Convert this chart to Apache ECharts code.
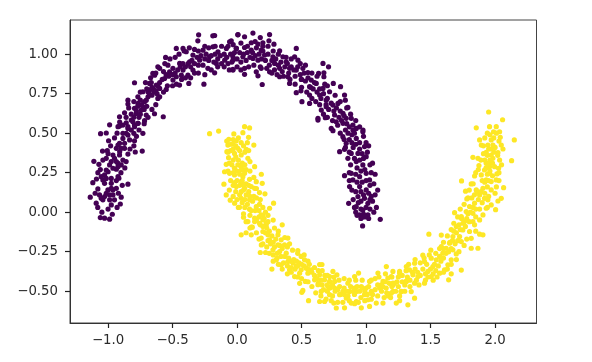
<!DOCTYPE html>
<html><head><meta charset="utf-8">
<style>html,body{margin:0;padding:0;background:#fff}#c{width:592px;height:362px}</style>
<script src="https://cdn.jsdelivr.net/npm/echarts@6/dist/echarts.min.js"></script></head>
<body><div id="c"></div>
<script>
const xTicks=[-1,-0.5,0,0.5,1,1.5,2];
const yTicks=[-0.5,-0.25,0,0.25,0.5,0.75,1];
const purple=[
[-1.048,0],[-1.06,-0.034],[-1.027,-0.038],[-0.988,-0.044],[-0.967,-0.013],[-1.138,0.095],[-1.092,0.057],[-0.905,0.052],[-0.898,0.095],[-0.975,0.046],[-0.846,0.177],[-1.118,0.187],[-1.079,0.147],[-1.066,0.109],[-1.027,0.099],[-0.988,0.109],[-0.963,0.141],[-0.95,0.078],[-1.04,0.078],[-0.975,0.183],[-0.916,0.215],[-0.936,0.2],[-1.04,0.204],[-1.027,0.236],[-1.079,0.25],[-1,0.256],[-1.11,0.322],[-1.071,0.303],[-0.975,0.32],[-0.95,0.341],[-0.911,0.362],[-0.924,0.31],[-0.898,0.299],[-0.936,0.272],[-1.014,0.341],[-1.043,0.387],[-1.006,0.389],[-0.846,0.368],[-0.789,0.381],[-0.735,0.387],[-0.996,0.452],[-1.058,0.497],[-1.014,0.501],[-0.936,0.404],[-0.911,0.436],[-0.872,0.404],[-0.885,0.467],[-0.846,0.488],[-0.795,0.452],[-0.8,0.499],[-0.73,0.499],[-0.988,0.553],[-0.911,0.545],[-0.859,0.566],[-0.795,0.551],[-0.717,0.579],
[-0.298,1.122],[-0.304,1.084],[-0.188,1.116],[-0.174,1.118],[0.006,1.122],[-0.795,0.819],[-0.257,0.81],[-0.64,0.623],[-0.572,0.604],[-0.554,0.979],[-0.614,0.92],[-0.471,1.036],[-0.446,0.804],[-0.374,0.815],[-0.911,0.604],[-0.872,0.629],[-0.846,0.709],[-0.846,0.684],[-0.769,0.73],[-0.795,0.657],[-0.743,0.646],[-0.76,0.6],[-0.704,0.615],[-0.717,0.699],[-0.678,0.772],[-0.64,0.76],[-0.614,0.72],[-0.549,0.777],[-0.653,0.878],[-0.665,0.82],[-0.614,0.8],
[-0.419,1.036],[-0.394,1.015],[-0.342,0.994],[-0.264,1.025],[-0.187,1.046],[-0.148,1.015],[-0.058,1.078],[-0.083,1.036],[-0.006,1.036],[-0.032,0.983],[-0.213,0.983],[-0.29,0.962],[-0.368,0.952],[-0.445,0.941],[-0.536,0.93],[-0.497,0.91],[-0.419,0.899],[-0.342,0.899],[-0.264,0.93],[-0.161,0.941],[-0.096,0.962],[-0.032,0.903],[-0.174,0.882],[-0.226,0.91],[-0.471,0.857],[-0.432,0.867],[-0.562,0.846],[-0.381,0.867],[-0.523,0.888],[-0.497,0.836],[-0.639,0.867],[-0.678,0.815],[-0.691,0.762],[-0.626,0.804],[-0.73,0.762],[-0.6,0.783],[-0.768,0.688],[-0.704,0.709],[-0.781,0.625],[-0.73,0.667],[-0.82,0.583],[-0.885,0.551],[-0.768,0.562],[-0.923,0.541],[-0.846,0.53],
[0.007,1.124],[0.058,1.11],[0.123,1.133],[0.18,1.105],[0.252,1.124],[0.247,1.084],[0.286,1.063],[0.459,1.036],[0.11,1.072],[0.162,1.063],[0.2,1.072],[-0.045,1.084],[-0.006,1.036],[0.058,1.042],[0.11,1.025],[0.187,1.025],[0.33,1.021],[0.213,0.994],[0.045,0.983],[0.123,0.973],[0.278,0.983],[0.355,0.983],[0.446,0.983],[-0.032,0.962],[0.162,0.962],[0.291,0.941],[0.381,0.952],[0.472,0.962],[-0.032,0.899],[0.058,0.91],[0.187,0.91],[0.058,0.872],[0.149,0.888],[0.252,0.888],[0.33,0.91],[0.407,0.91],[0.459,0.899],[0.51,0.91],[0.549,0.884],[0.666,0.941],[0.709,0.92],[0.632,0.878],[0.673,0.882],[0.673,0.857],[0.162,0.863],[0.195,0.808],[0.33,0.857],[0.394,0.857],[0.407,0.815],[0.498,0.84],[0.575,0.836],[0.614,0.815],[0.746,0.815],[0.802,0.794],[0.562,0.794],[0.666,0.783],[0.717,0.762],[0.459,0.756],[0.495,0.768],[0.503,0.699],[0.562,0.741],[0.562,0.688],[0.64,0.741],[0.691,0.709],[0.743,0.678],[0.833,0.741],[0.839,0.709],[0.782,0.688],[0.859,0.663],[0.653,0.646],[0.627,0.594],[0.684,0.598],[0.691,0.667],[0.756,0.615],[0.821,0.625],[0.846,0.594],[0.769,0.572],[0.885,0.594],[0.898,0.551],[0.821,0.562],[0.73,0.53],[0.924,0.53],[0.976,0.52],
[0.627,0.583],[0.743,0.516],[0.82,0.478],[0.795,0.383],[0.833,0.398],[0.975,0.509],[0.898,0.52],[0.846,0.436],[0.924,0.467],[0.988,0.415],[0.885,0.372],[0.937,0.372],[1.001,0.351],[0.859,0.341],[0.924,0.32],[0.975,0.299],[0.833,0.231],[0.885,0.246],[0.872,0.162],[0.898,0.204],[0.95,0.225],[1.001,0.246],[1.027,0.204],[0.95,0.162],[1.001,0.141],[0.937,0.099],[0.988,0.088],[0.865,0.056],[0.924,0.035],[0.975,0.014],[1.014,0.056],[0.95,-0.017],[1.014,-0.017],[0.973,-0.087],[1.11,-0.045],[1.08,0.03],[1.09,0.14],[1.07,0.24],[1.05,0.31],[1.02,0.42],[1.04,0.1],[1.06,0],[0.97,-0.03],[1.02,-0.04],[0.98,-0.012],
[-1.053,0.088],[-1.014,0.12],[-0.988,0.078],[-0.962,0.109],[-1.001,0.141],[-0.936,0.151],[-0.975,0.151],[-1.027,0.183],[-1.053,0.225],[-1.014,0.214],[-0.975,0.214],[-0.923,0.225],[-1.014,0.267],[-0.988,0.299],[-0.962,0.278],[-0.923,0.288],[-0.885,0.33],[-0.936,0.32],[-0.962,0.362],[-0.91,0.383],[-0.923,0.425],[-0.872,0.436],[-0.897,0.404],[-0.833,0.457],[-0.859,0.499],[-0.82,0.52],[-0.885,0.499],[-0.846,0.541],[-0.794,0.541],[-0.768,0.562],[-0.807,0.572],
[-0.78,0.64],[-0.75,0.62],[-0.77,0.67],[-0.74,0.68],[-0.75,0.71],[-0.72,0.65],[-0.7,0.67],[-0.8,0.6],[-0.82,0.62],[-0.69,0.73],[-0.66,0.74],[-0.68,0.75],[-0.65,0.78],[-0.63,0.77],[-0.66,0.79],[-0.7,0.78],[-0.62,0.75],[-0.6,0.82],[-0.58,0.84],[-0.55,0.87],[-0.57,0.89],[-0.53,0.86],[-0.5,0.87],[-0.48,0.88],[-0.46,0.9],[-0.44,0.92],[-0.42,0.94],[-0.4,0.92],[-0.38,0.94],[-0.36,0.92],[-0.35,0.96],[-0.33,0.94],[-0.31,0.98],[-0.3,0.93],[-0.28,0.99],[-0.25,0.97],[-0.24,1],[-0.22,0.96],[-0.2,0.99],[-0.18,0.95],[-0.17,1],[-0.15,0.97],[-0.13,0.99],[-0.12,0.94],[-0.1,1],[-0.08,0.98],[-0.07,0.94],[-0.05,1],[-0.04,0.95],[-0.02,1.01],[0,0.97],[0.02,1.01],[0.03,0.95],[0.05,1],[0.07,0.96],[0.08,1.01],[0.1,0.98],[0.12,1.01],[0.14,0.99],[0.15,1.04],[0.17,1],[0.19,0.97],[0.2,1.02],[0.22,0.96],[0.24,1],[0.25,0.93],[0.27,0.96],[0.29,0.9],[0.3,0.97],[0.32,0.93],[0.34,0.95],[0.35,0.89],[0.37,0.92],[0.39,0.94],[0.4,0.88],[0.42,0.92],[0.44,0.9],[0.45,0.86],[0.47,0.92],[0.49,0.87],[0.5,0.84],[0.52,0.88],[0.53,0.83],[0.55,0.85],[0.57,0.79],[0.59,0.78],[0.6,0.82],[0.62,0.76],[0.64,0.78],[0.65,0.72],[0.67,0.75],[0.69,0.68],[0.7,0.72],[0.71,0.65],[0.73,0.69],[0.75,0.64],[0.77,0.66],[0.79,0.6],[0.8,0.64],[0.81,0.58],[0.83,0.61],[0.85,0.56],[0.87,0.54],[0.84,0.52],[0.86,0.5],[0.89,0.49],[0.91,0.5],[0.87,0.46],[0.89,0.44],[0.92,0.43],[0.95,0.44],[0.9,0.41],[0.95,0.4],[0.97,0.37],[0.91,0.34],[0.95,0.33],[0.98,0.34],[0.93,0.28],[0.96,0.26],[0.99,0.27],[0.92,0.24],[1,0.2],[0.97,0.19],[0.93,0.19],[1.03,0.17],[0.96,0.13],[1.02,0.12],[0.92,0.13],[0.98,0.11],[1.05,0.07],[0.96,0.07],[0.94,0.06],[1,0.03],[0.96,0.02],[1.03,0.02],[0.92,0],[0.99,-0.03],
[-1.08,0.03],[-1,0.02],[-0.93,0.03],[-1.1,0.12],[-0.92,0.12],[-1.09,0.21],[-0.89,0.17],[-1.06,0.27],[-0.9,0.25],[-1.04,0.33],[-0.87,0.28],[-1,0.37],[-0.86,0.32],[-0.98,0.42],[-0.83,0.4],[-0.95,0.47],[-0.8,0.42],[-0.93,0.5],[-0.78,0.48],[-0.91,0.57],[-0.76,0.52],[-0.86,0.6],[-0.72,0.56],[-0.84,0.66],[-0.69,0.6],[-0.8,0.7],[-0.66,0.65],[-0.75,0.76],[-0.63,0.68],[-0.71,0.82],[-0.6,0.73],[-0.67,0.85],[-0.57,0.76],[-0.63,0.88],[-0.54,0.8],[-0.6,0.91],[-0.5,0.8],[-0.56,0.94],[-0.47,0.81],[-0.52,0.97],[-0.43,0.84],[-0.48,0.98],[-0.4,0.85],[-0.45,1],[-0.36,0.85],[-0.41,1.02],[-0.33,0.88],[-0.37,1.04],[-0.3,0.88],[-0.33,1.03],[-0.25,0.87],[-0.3,1.02],[-0.2,0.9],[-0.25,1.05],[-0.15,0.92],[-0.22,1.04],[-0.1,0.92],[-0.17,1.05],[-0.06,0.9],[-0.12,1.05],[0,0.92],[-0.07,1.05],[0.03,0.9],[-0.03,1.06],[0.09,0.92],[0.03,1.07],[0.13,0.93],[0.08,1.05],[0.18,0.92],[0.14,1.08],[0.23,0.91],[0.2,1.05],[0.27,0.88],[0.24,1.05],[0.31,0.87],[0.28,1.02],[0.36,0.86],[0.32,1],[0.41,0.84],[0.38,0.98],[0.45,0.81],[0.42,0.97],[0.5,0.79],[0.49,0.94],[0.54,0.76],[0.53,0.93],[0.58,0.72],[0.58,0.88],[0.61,0.7],[0.62,0.86],[0.64,0.68],[0.68,0.81],[0.67,0.62],[0.7,0.8],[0.7,0.6],[0.76,0.74],[0.74,0.58],[0.8,0.7],[0.78,0.55],[0.85,0.66],[0.8,0.5],[0.88,0.62],[0.83,0.46],[0.92,0.58],[0.84,0.41],[0.95,0.54],[0.87,0.38],[0.98,0.48],[0.88,0.3],[1,0.44],[0.87,0.25],[1.01,0.38],[0.87,0.2],[1.03,0.3],[0.89,0.14],[1.04,0.25],[0.9,0.08],[1.06,0.18],[0.91,0.03],[1.07,0.11],[0.93,-0.02],[1.03,0.08],[0.96,-0.04]
];
const yellow=[
[-0.213,0.497],[-0.143,0.513],[0.058,0.541],[0.097,0.533],[0.045,0.503],[-0.025,0.495],[0.089,0.474],[-0.064,0.461],[-0.006,0.452],[0.032,0.44],[-0.032,0.431],[-0.071,0.425],[0.13,0.425],[-0.079,0.383],[0.071,0.398],[0.006,0.404],[-0.02,0.372],[0.032,0.362],[-0.066,0.345],[0.084,0.341],[-0.084,0.303],[0.006,0.299],[0.136,0.288],[-0.097,0.256],[-0.058,0.246],[-0.02,0.278],[0.032,0.267],[0.058,0.246],[0.188,0.24],[-0.02,0.236],[0.045,0.225],[-0.102,0.177],[-0.02,0.187],[0.032,0.193],[0.097,0.208],[0.149,0.193],[0.195,0.183],[-0.006,0.162],[0.058,0.151],[0.11,0.162],[0.136,0.151],[-0.084,0.109],[0.032,0.13],[0.071,0.109],[0.174,0.124],[0.216,0.116],[-0.053,0.076],[-0.019,0.057],[0.032,0.088],[0.097,0.078],[0.174,0.05],[0.283,0.057],[0.019,0.031],[0.097,0.019],[0.149,0.035],[0.252,0.025],[0.05,-0.032],[0.084,-0.059],[0.136,-0.038],[0.187,-0.017],[0.2,-0.049],[0.226,-0.07],[0.118,-0.095],[0.35,-0.08],
[0.032,-0.143],[0.07,-0.13],[0.11,-0.143],[0.11,-0.095],[0.174,-0.07],[0.226,-0.08],[0.136,-0.059],[0.2,-0.122],[0.239,-0.143],[0.252,-0.175],[0.187,-0.164],[0.188,-0.207],[0.18,-0.255],[0.221,-0.255],[0.27,-0.36],[0.471,-0.243],[0.64,-0.331],[0.658,-0.331],[0.51,-0.495],[0.502,-0.507],[0.554,-0.56],[0.529,-0.438],[0.485,-0.45],[0.743,-0.375],[0.774,-0.396],[0.942,-0.385],[0.911,-0.407],[0.769,-0.606],[0.833,-0.605],[0.75,-0.575],[0.963,-0.605],[0.64,-0.565],[0.678,-0.565],[0.911,-0.579],[1.027,-0.596],[1.079,-0.575],[1.131,-0.575],[1.234,-0.575],[1.26,-0.56],[1.324,-0.586],[1.272,-0.5],[1.157,-0.344],[1.092,-0.385],[1.208,-0.375],[1.26,-0.375],[1.312,-0.344],
[0.317,-0.143],[0.342,-0.175],[0.394,-0.164],[0.407,-0.2],[0.368,-0.207],[0.317,-0.207],[0.278,-0.238],[0.33,-0.249],[0.381,-0.259],[0.304,-0.301],[0.342,-0.333],[0.394,-0.312],[0.433,-0.322],[0.497,-0.28],[0.523,-0.301],[0.459,-0.343],[0.407,-0.364],[0.497,-0.364],[0.536,-0.354],[0.575,-0.364],[0.446,-0.407],[0.549,-0.386],[0.485,-0.386],[0.601,-0.428],[0.64,-0.396],[0.678,-0.428],[0.627,-0.459],[0.717,-0.438],[0.756,-0.438],[0.704,-0.47],[0.652,-0.501],[0.756,-0.48],[0.795,-0.47],[0.717,-0.522],[0.82,-0.501],[0.859,-0.449],[0.872,-0.501],[0.795,-0.522],[0.846,-0.543],[0.911,-0.48],[0.963,-0.47],[1.001,-0.48],[1.027,-0.438],[0.924,-0.501],[0.988,-0.522],[1.04,-0.501],[1.014,-0.554],[1.131,-0.438],[1.169,-0.417],[1.208,-0.449],[1.105,-0.48],[1.156,-0.48],[1.208,-0.501],[1.169,-0.529],[1.118,-0.459],[1.311,-0.438],[0.924,-0.565],[0.885,-0.575],[0.717,-0.407],
[1.95,0.634],[2.058,0.585],[1.854,0.534],[2.149,0.457],[2.128,0.326],[1.828,0.347],[1.74,0.198],[2.066,0.155],[1.686,-0.003],[2.004,0.016],[1.487,-0.139],[1.583,-0.145],[1.738,-0.366],[1.64,-0.428],[1.502,-0.24],[1.44,-0.272],[1.771,0.133],[1.781,0.084],[1.815,0.179],[2.048,0.088],[2.022,0.071],[1.97,0.046],
[1.957,0.541],[2.009,0.541],[1.988,0.509],[2.035,0.509],[2.04,0.474],[1.97,0.457],[1.88,0.457],[1.893,0.425],[2.048,0.425],[2.061,0.4],[1.944,0.425],[1.983,0.425],[1.931,0.379],[2.022,0.377],[1.97,0.362],[1.867,0.341],[2.035,0.33],[1.983,0.341],[1.875,0.295],[1.931,0.309],[1.957,0.288],[1.996,0.288],[2.027,0.278],[1.918,0.267],[1.957,0.246],[2.014,0.242],[1.841,0.229],[1.893,0.236],[1.931,0.204],[1.97,0.194],[2.009,0.204],[1.854,0.141],[1.906,0.151],[1.97,0.141],[1.88,0.109],[1.918,0.088],[1.944,0.078],[1.931,0.025],[1.802,0.036],[1.841,0.057],[1.776,0.004],[1.828,-0.007],[1.738,-0.028],[1.906,-0.017],[1.763,-0.059],[1.828,-0.059],[1.88,-0.049],[1.699,-0.091],[1.841,-0.08],[1.802,-0.122],[1.75,-0.112],[1.673,-0.154],[1.725,-0.154],[1.88,-0.139],[1.906,-0.143],[1.815,-0.165],[1.647,-0.196],[1.738,-0.186],[1.583,-0.217],[1.621,-0.228],[1.673,-0.238],[1.815,-0.228],[1.867,-0.228],[1.595,-0.259],[1.699,-0.264],[1.66,-0.301],[1.634,-0.333],[1.505,-0.291],[1.453,-0.312],[1.544,-0.301],[1.518,-0.344],[1.479,-0.375],[1.505,-0.407],[1.57,-0.386],[1.608,-0.365],[1.66,-0.39],[1.376,-0.323],[1.337,-0.365],[1.26,-0.386],[1.363,-0.396],[1.402,-0.407],[1.311,-0.438],[1.376,-0.449],[1.453,-0.449],[1.195,-0.407],[1.208,-0.46],[1.272,-0.502],[1.35,-0.502],[1.376,-0.544],[1.195,-0.512],
[-0.05,0.43],[-0.03,0.46],[-0.01,0.42],[0.01,0.47],[0.02,0.39],[-0.05,0.39],[-0.03,0.4],[0.05,0.42],[0.06,0.38],[-0.01,0.35],[-0.03,0.33],[0.01,0.33],[0.04,0.31],[-0.04,0.3],[0.03,0.29],[0.06,0.3],[0,0.26],[0.02,0.24],[0.05,0.27],[0.07,0.27],[-0.03,0.25],[0.04,0.2],[0,0.2],[0.07,0.18],[0.02,0.17],[0.09,0.17],[-0.03,0.17],[0.05,0.17],[-0.01,0.13],[0.05,0.14],[0.09,0.13],[0.02,0.11],[0.06,0.08],[0.1,0.1],[0.13,0.1],[0.04,0.06],[0.08,0.05],[0.12,0.07],[0.06,0.03],[0.14,0.01],[0.11,0.01],[0.17,0.01],[0.1,-0.02],[0.15,-0.05],[0.17,-0.03],[0.2,-0.02],[0.18,-0.08],[0.21,-0.04],[0.23,-0.1],[0.2,-0.09],[0.24,-0.06],[0.25,-0.12],[0.22,-0.13],[0.27,-0.15],[0.24,-0.18],[0.28,-0.19],[0.3,-0.17],[0.26,-0.2],[0.29,-0.22],[0.33,-0.21],[0.35,-0.23],[0.31,-0.26],[0.28,-0.27],[0.34,-0.28],[0.37,-0.28],[0.31,-0.29],[0.36,-0.32],[0.4,-0.29],[0.42,-0.31],[0.39,-0.34],[0.44,-0.3],[0.46,-0.31],[0.48,-0.32],[0.45,-0.36],[0.42,-0.35],[0.5,-0.33],[0.52,-0.34],[0.47,-0.34],[0.55,-0.36],[0.56,-0.33],[0.58,-0.38],[0.6,-0.4],[0.62,-0.42],[0.65,-0.43],[0.63,-0.45],[0.66,-0.46],[0.68,-0.4],[0.7,-0.46],[0.72,-0.48],[0.67,-0.49],[0.7,-0.5],[0.74,-0.46],[0.76,-0.5],[0.78,-0.49],[0.74,-0.53],[0.8,-0.52],[0.83,-0.48],[0.85,-0.5],[0.83,-0.52],[0.88,-0.47],[0.9,-0.5],[0.86,-0.53],[0.93,-0.47],[0.95,-0.5],[0.97,-0.48],[0.91,-0.52],[0.99,-0.5],[1.02,-0.47],[1.01,-0.52],[0.96,-0.54],[1.05,-0.52],[1.07,-0.49],[1.09,-0.46],[1.13,-0.47],[1.12,-0.5],[1.15,-0.44],[1.18,-0.45],[1.16,-0.51],[1.2,-0.47],[1.22,-0.45],[1.24,-0.44],[1.25,-0.47],[1.23,-0.5],[1.28,-0.44],[1.3,-0.46],[1.32,-0.41],[1.34,-0.43],[1.36,-0.38],[1.38,-0.36],[1.4,-0.38],[1.42,-0.4],[1.39,-0.43],[1.44,-0.36],[1.46,-0.39],[1.48,-0.41],[1.5,-0.36],[1.47,-0.33],[1.52,-0.39],[1.54,-0.37],[1.56,-0.34],[1.53,-0.33],[1.58,-0.31],[1.6,-0.29],[1.57,-0.28],[1.62,-0.26],[1.6,-0.23],[1.64,-0.25],[1.66,-0.23],[1.65,-0.19],[1.69,-0.2],[1.67,-0.18],[1.71,-0.18],[1.7,-0.13],[1.68,-0.12],[1.73,-0.11],[1.72,-0.08],[1.75,-0.07],[1.74,-0.04],[1.78,-0.04],[1.77,-0.09],[1.79,-0.01],[1.81,0],[1.8,-0.06],[1.83,0.03],[1.85,0.02],[1.82,0.09],[1.84,0.11],[1.87,0.08],[1.86,0.13],[1.89,0.13],[1.9,0.06],[1.92,0.12],[1.94,0.16],[1.95,0.2],[1.92,0.19],[1.9,0.2],[1.94,0.24],[1.98,0.23],[1.96,0.26],[1.93,0.28],[1.95,0.31],[1.98,0.31],[1.92,0.33],[1.96,0.33],[1.94,0.36],[1.99,0.38],[1.95,0.4],[2,0.41],[1.96,0.49],[2.01,0.5],[1.99,0.47],[1.97,0.4],
[-0.08,0.45],[0.08,0.44],[-0.07,0.38],[0.09,0.39],[-0.06,0.31],[0.1,0.32],[-0.07,0.26],[0.1,0.26],[-0.05,0.2],[0.13,0.22],[-0.06,0.14],[0.15,0.15],[-0.03,0.1],[0.15,0.09],[0,0.08],[0.18,0.08],[0.01,0.03],[0.2,0.03],[0.05,-0.01],[0.22,0],[0.07,-0.06],[0.24,-0.02],[0.1,-0.1],[0.28,-0.05],[0.15,-0.13],[0.29,-0.1],[0.17,-0.17],[0.32,-0.12],[0.2,-0.2],[0.37,-0.16],[0.23,-0.22],[0.39,-0.22],[0.25,-0.26],[0.43,-0.24],[0.28,-0.31],[0.47,-0.26],[0.32,-0.33],[0.52,-0.27],[0.35,-0.36],[0.55,-0.31],[0.39,-0.39],[0.6,-0.35],[0.42,-0.38],[0.63,-0.37],[0.47,-0.41],[0.66,-0.37],[0.5,-0.42],[0.7,-0.4],[0.55,-0.44],[0.75,-0.41],[0.58,-0.47],[0.79,-0.43],[0.61,-0.51],[0.83,-0.42],[0.65,-0.53],[0.87,-0.43],[0.69,-0.55],[0.92,-0.43],[0.73,-0.56],[0.97,-0.43],[0.78,-0.57],[1.04,-0.43],[0.82,-0.57],[1.07,-0.42],[0.87,-0.56],[1.1,-0.41],[0.94,-0.57],[1.15,-0.39],[0.99,-0.56],[1.2,-0.41],[1.04,-0.55],[1.25,-0.41],[1.09,-0.53],[1.28,-0.4],[1.14,-0.54],[1.31,-0.37],[1.19,-0.54],[1.33,-0.33],[1.26,-0.53],[1.38,-0.3],[1.3,-0.5],[1.42,-0.32],[1.34,-0.47],[1.45,-0.29],[1.41,-0.46],[1.49,-0.27],[1.46,-0.43],[1.54,-0.26],[1.52,-0.43],[1.57,-0.23],[1.55,-0.41],[1.6,-0.19],[1.6,-0.38],[1.63,-0.15],[1.63,-0.36],[1.66,-0.11],[1.66,-0.33],[1.68,-0.07],[1.7,-0.3],[1.71,-0.03],[1.72,-0.25],[1.73,0.02],[1.76,-0.21],[1.76,0.05],[1.78,-0.17],[1.79,0.09],[1.85,-0.12],[1.8,0.14],[1.85,-0.03],[1.83,0.18],[1.88,0.02],[1.85,0.25],[1.94,0.03],[1.87,0.27],[1.95,0.1],[1.89,0.33],[2,0.12],[1.91,0.37],[2.01,0.16],[1.91,0.42],[2.03,0.2],[1.92,0.47],[2.03,0.25],[1.94,0.5],[2.05,0.3],[2.02,0.36],[2.03,0.45]
];
const minus=s=>s.replace('-','\u2212');
const axisBase={type:'value',axisLine:{show:true,onZero:false,lineStyle:{color:'#333',width:1}},splitLine:{show:false},
  axisTick:{show:true,length:5,lineStyle:{color:'#222',width:1.2}}};
const chart=echarts.init(document.getElementById('c'),null,{renderer:'canvas'});
const font={fontFamily:'DejaVu Sans',fontSize:13.3,color:'#2a2a2a'};
chart.setOption({
  animation:false,
  backgroundColor:'#fff',
  grid:{left:70,right:55.5,top:20,bottom:39,show:true,borderColor:'#444',borderWidth:1,backgroundColor:'#fff'},
  xAxis:{...axisBase,min:-1.295,max:2.321,
    axisTick:{...axisBase.axisTick,customValues:xTicks},
    axisLabel:{...font,margin:11,customValues:xTicks,formatter:v=>minus(v.toFixed(1))}},
  yAxis:{...axisBase,min:-0.701,max:1.216,
    axisTick:{...axisBase.axisTick,customValues:yTicks},
    axisLabel:{...font,margin:12,padding:[6,0,0,0],customValues:yTicks,formatter:v=>minus(v.toFixed(2))}},
  series:[
    {type:'scatter',data:purple,symbolSize:5.2,itemStyle:{color:'#440154',opacity:1}},
    {type:'scatter',data:yellow,symbolSize:5.2,itemStyle:{color:'#fde725',opacity:1}}
  ]
});
</script></body></html>
